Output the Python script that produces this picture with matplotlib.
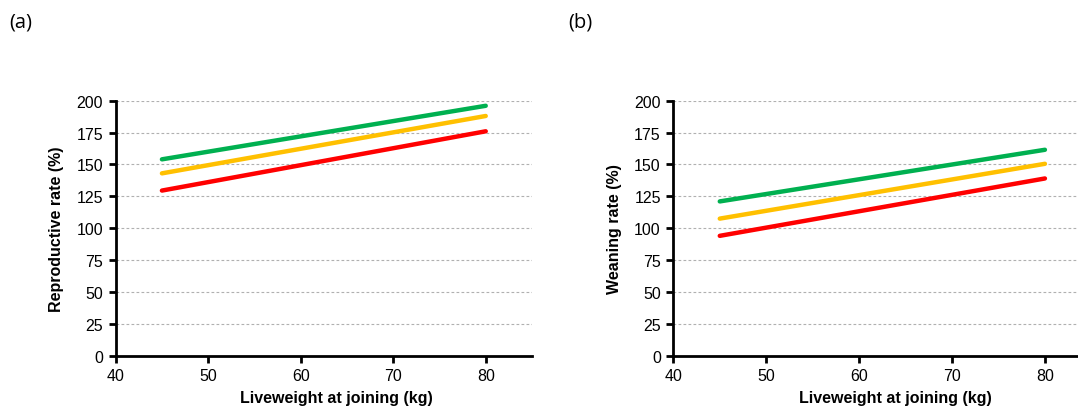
import matplotlib.pyplot as plt

# Liveweight at joining (kg) - start and end of each fitted line
liveweight = [45, 80]

# (a) Reproductive rate (%)
repro_green = [154, 196]
repro_yellow = [143, 188]
repro_red = [129.5, 176]

# (b) Weaning rate (%)
wean_green = [121, 161.5]
wean_yellow = [107.5, 150.5]
wean_red = [94, 139]

y_ticks = [0, 25, 50, 75, 100, 125, 150, 175, 200]
x_ticks = [40, 50, 60, 70, 80]

colors = {"green": "#00B050", "yellow": "#FFC000", "red": "#FF0000"}

plt.rcParams['font.family'] = ['Liberation Sans', 'DejaVu Sans']

fig = plt.figure(figsize=(10.78, 4.10), dpi=100)
ax1 = fig.add_axes([0.1073, 0.130, 0.3862, 0.622])
ax2 = fig.add_axes([0.6246, 0.130, 0.3754, 0.622])


def style_axes(ax, ylabel, xmax, xlabel_x):
    ax.set_xlim(40, xmax)
    ax.set_ylim(0, 200)
    ax.set_xticks(x_ticks)
    ax.set_yticks(y_ticks)
    ax.yaxis.grid(True, linestyle=(0, (2.5, 2)), color="#b0b0b0", linewidth=0.8)
    ax.set_axisbelow(True)
    for s in ["top", "right"]:
        ax.spines[s].set_visible(False)
    for s in ["left", "bottom"]:
        ax.spines[s].set_linewidth(2)
    ax.tick_params(axis="both", direction="out", length=5, width=2,
                   labelsize=11.5, pad=4)
    ax.set_ylabel(ylabel, fontsize=11.5, fontweight="bold", labelpad=9)
    ax.set_xlabel("Liveweight at joining (kg)", fontsize=11.5,
                  fontweight="bold")
    ax.xaxis.set_label_coords(xlabel_x, -0.135)


for ax, g, yv, r in [(ax1, repro_green, repro_yellow, repro_red),
                     (ax2, wean_green, wean_yellow, wean_red)]:
    ax.plot(liveweight, g, color=colors["green"], lw=3.2, solid_capstyle="round")
    ax.plot(liveweight, yv, color=colors["yellow"], lw=3.2, solid_capstyle="round")
    ax.plot(liveweight, r, color=colors["red"], lw=3.2, solid_capstyle="round")

style_axes(ax1, "Reproductive rate (%)", 85, 0.530)
style_axes(ax2, "Weaning rate (%)", 83.56, 0.548)

fig.text(0.009, 0.945, "(a)", fontsize=14.5, family=["Open Sans", "DejaVu Sans"], va="center")
fig.text(0.527, 0.945, "(b)", fontsize=14.5, family=["Open Sans", "DejaVu Sans"], va="center")

fig.savefig("out.png", dpi=100)
